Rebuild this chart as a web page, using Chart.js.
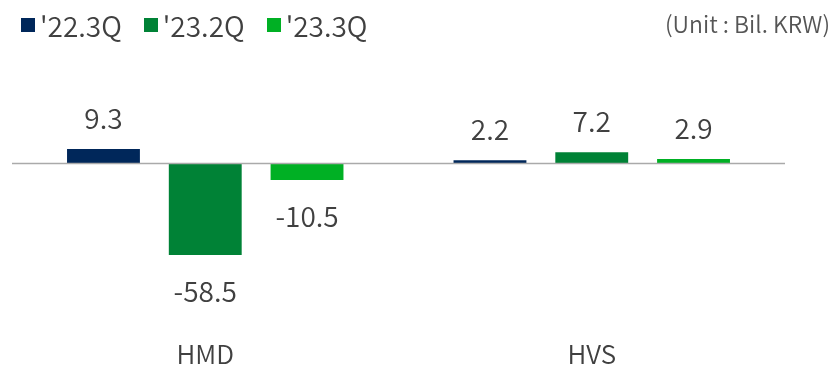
<!DOCTYPE html>
<html>
<head>
    <title>HMD / HVS</title>
    <script src="https://cdn.jsdelivr.net/npm/chart.js"></script>
    <style>
        body { margin: 0; background: #fff; font-family: "Noto Sans CJK KR", sans-serif; }
        #wrap { position: relative; width: 832px; height: 365px; }
        #legend { position: absolute; left: 21px; top: 5px; display: flex; color: #404040; font-size: 28px; font-weight: 350; }
        .item { display: flex; align-items: center; margin-right: 22px; }
        .box { width: 14px; height: 14px; margin-right: 5px; }
        #unit { position: absolute; right: 2px; top: 6px; color: #555; font-size: 23px; font-weight: 350; }
    </style>
</head>
<body>
<div id="wrap">
    <canvas id="chart" width="832" height="365"></canvas>
    <div id="legend"></div>
    <div id="unit">(Unit : Bil. KRW)</div>
</div>
<script>
    // データ
    const categories = ['HMD', 'HVS'];
    const seriesNames = ["'22.3Q", "'23.2Q", "'23.3Q"];
    const q22_3 = [9.3, 2.2];
    const q23_2 = [-58.5, 7.2];
    const q23_3 = [-10.5, 2.9];
    const colors = ['#00275a', '#008236', '#00b024'];

    const textColor = '#404040';
    const fontFamily = '"Noto Sans CJK KR", sans-serif';

    // 凡例
    const legend = document.getElementById('legend');
    seriesNames.forEach((name, i) => {
        const item = document.createElement('div');
        item.className = 'item';
        item.innerHTML = '<span class="box" style="background:' + colors[i] + '"></span><span>' + name + '</span>';
        legend.appendChild(item);
    });

    // 値ラベルとゼロ線
    const valueLabels = {
        id: 'valueLabels',
        afterDatasetsDraw(chart) {
            const ctx = chart.ctx;
            const y0 = chart.scales.y.getPixelForValue(0);
            ctx.save();
            ctx.strokeStyle = '#aaaaaa';
            ctx.lineWidth = 1.5;
            ctx.beginPath();
            ctx.moveTo(chart.chartArea.left, y0);
            ctx.lineTo(chart.chartArea.right, y0);
            ctx.stroke();

            ctx.fillStyle = textColor;
            ctx.font = '350 28px ' + fontFamily;
            ctx.textAlign = 'center';
            ctx.textBaseline = 'alphabetic';
            chart.data.datasets.forEach((ds, di) => {
                chart.getDatasetMeta(di).data.forEach((bar, i) => {
                    const v = ds.data[i];
                    const y = v >= 0 ? bar.y - 20 : bar.y + 47;
                    ctx.fillText(v.toFixed(1), bar.x, y);
                });
            });
            ctx.restore();
        }
    };

    new Chart(document.getElementById('chart'), {
        type: 'bar',
        data: {
            labels: categories,
            datasets: [
                { label: seriesNames[0], data: q22_3, backgroundColor: colors[0] },
                { label: seriesNames[1], data: q23_2, backgroundColor: colors[1] },
                { label: seriesNames[2], data: q23_3, backgroundColor: colors[2] }
            ]
        },
        options: {
            responsive: false,
            animation: false,
            layout: { padding: { top: 61, left: 12, right: 47, bottom: 0 } },
            datasets: { bar: { categoryPercentage: 0.79, barPercentage: 0.716 } },
            plugins: { legend: { display: false }, tooltip: { enabled: false } },
            scales: {
                x: {
                    grid: { display: false, drawTicks: false },
                    border: { display: false },
                    afterFit: (s) => { s.height = 42; },
                    ticks: { color: textColor, padding: 18, font: { family: fontFamily, size: 26, weight: 350, lineHeight: 1 } }
                },
                y: { display: false, min: -101.9, max: 65.6 }
            }
        },
        plugins: [valueLabels]
    });
</script>
</body>
</html>
